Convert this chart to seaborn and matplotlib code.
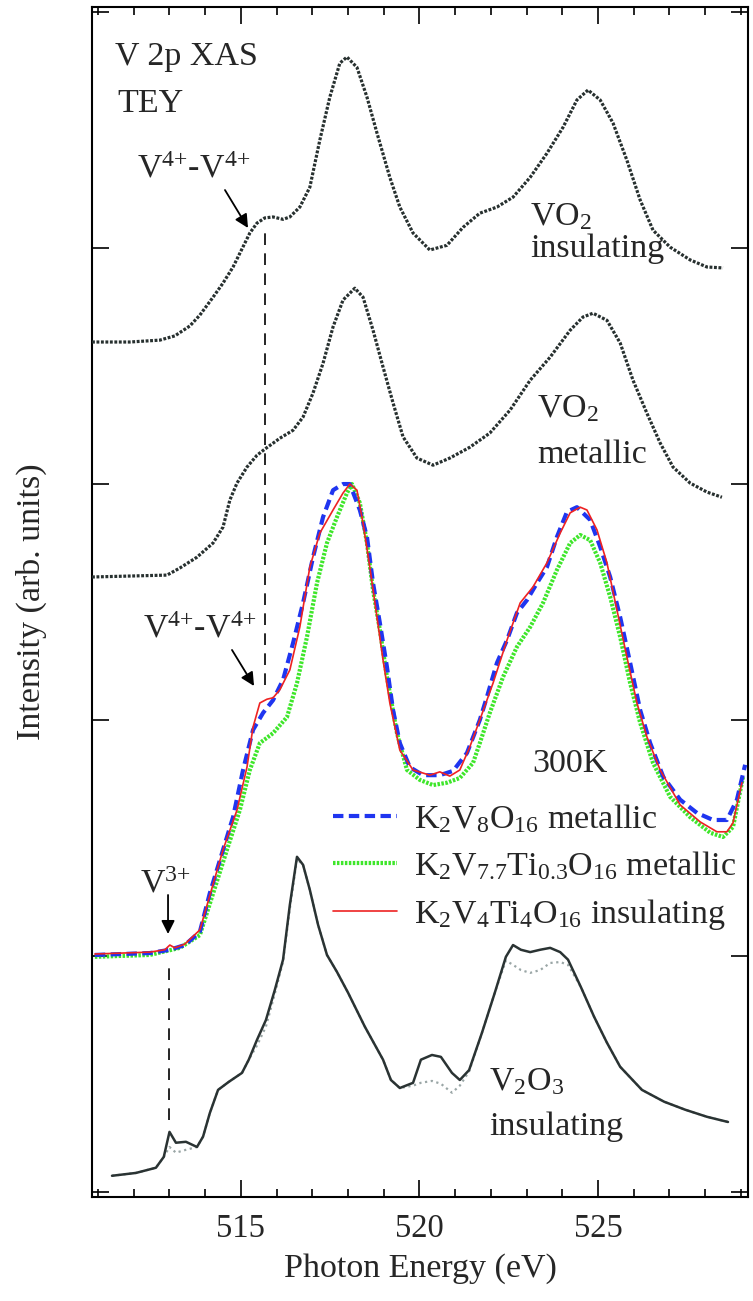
import numpy as np
import pandas as pd
import matplotlib
matplotlib.use("Agg")
import matplotlib.pyplot as plt
import seaborn as sns
from matplotlib.ticker import MultipleLocator

# ---------------- data (photon energy in eV, intensity in arb. units, offset stacked) ----------------
vo2_ins_E = [510.83, 511.89, 512.73, 513.15, 513.57, 513.85, 514.22, 514.50, 514.78, 515.25,
             515.45, 515.67, 515.90, 516.18, 516.37, 516.65, 516.93, 517.21, 517.49, 517.77,
             517.97, 518.25, 518.53, 518.81, 519.17, 519.45, 519.82, 520.29, 520.77, 521.22,
             521.69, 522.17, 522.62, 523.10, 523.57, 524.02, 524.41, 524.72, 525.06, 525.42,
             525.81, 526.18, 526.54, 527.02, 527.58, 528.05, 528.50]
vo2_ins_I = [1.301, 1.301, 1.305, 1.314, 1.335, 1.358, 1.396, 1.426, 1.460, 1.532,
             1.553, 1.564, 1.566, 1.561, 1.566, 1.587, 1.629, 1.729, 1.820, 1.892,
             1.905, 1.883, 1.820, 1.744, 1.650, 1.587, 1.532, 1.496, 1.506, 1.544,
             1.574, 1.587, 1.608, 1.650, 1.701, 1.756, 1.814, 1.835, 1.814, 1.765,
             1.686, 1.602, 1.538, 1.502, 1.475, 1.460, 1.458]

vo2_met_E = [510.83, 512.93, 513.29, 513.77, 514.22, 514.50, 514.69, 514.89, 515.17, 515.45,
             515.67, 516.09, 516.46, 516.74, 517.02, 517.30, 517.58, 517.86, 518.19, 518.42,
             518.70, 518.98, 519.26, 519.54, 519.93, 520.38, 520.85, 521.41, 521.97, 522.54,
             523.10, 523.66, 524.22, 524.58, 524.86, 525.25, 525.62, 525.98, 526.37, 526.74,
             527.10, 527.58, 528.05, 528.47]
vo2_met_I = [0.803, 0.807, 0.822, 0.845, 0.875, 0.909, 0.966, 1.002, 1.036, 1.061,
             1.074, 1.097, 1.114, 1.142, 1.193, 1.256, 1.333, 1.390, 1.415, 1.396,
             1.326, 1.248, 1.172, 1.100, 1.055, 1.040, 1.055, 1.078, 1.108, 1.157,
             1.220, 1.269, 1.326, 1.354, 1.362, 1.347, 1.299, 1.220, 1.150, 1.087,
             1.036, 1.002, 0.983, 0.972]

k2v8_E = [510.91, 512.45, 513.01, 513.43, 513.85, 514.13, 514.50, 514.78, 515.06, 515.34,
          515.62, 515.90, 516.18, 516.46, 516.74, 517.02, 517.30, 517.58, 517.86, 518.05,
          518.33, 518.53, 518.70, 518.89, 519.09, 519.26, 519.45, 519.73, 520.10, 520.57,
          520.94, 521.33, 521.69, 521.89, 522.17, 522.45, 522.73, 523.01, 523.29, 523.57,
          523.85, 524.13, 524.41, 524.78, 525.06, 525.34, 525.62, 525.90, 526.18, 526.46,
          526.83, 527.30, 527.77, 528.22, 528.61, 528.89, 529.12]
k2v8_I = [0.002, 0.006, 0.013, 0.023, 0.051, 0.133, 0.225, 0.294, 0.394, 0.479,
          0.515, 0.542, 0.585, 0.663, 0.748, 0.845, 0.930, 0.987, 1.000, 1.000,
          0.945, 0.888, 0.790, 0.706, 0.612, 0.521, 0.451, 0.400, 0.383, 0.383,
          0.392, 0.430, 0.500, 0.549, 0.621, 0.669, 0.727, 0.754, 0.790, 0.824,
          0.888, 0.941, 0.951, 0.924, 0.867, 0.803, 0.718, 0.621, 0.521, 0.451,
          0.379, 0.331, 0.303, 0.288, 0.288, 0.331, 0.405]

k2v77_E = [510.91, 512.45, 513.29, 513.85, 514.61, 514.97, 515.25, 515.53, 515.90, 516.29,
           516.57, 516.85, 517.13, 517.41, 517.69, 517.97, 518.11, 518.33, 518.53, 518.70,
           518.89, 519.09, 519.37, 519.65, 520.01, 520.38, 520.77, 521.13, 521.50, 521.69,
           521.97, 522.34, 522.73, 523.10, 523.46, 523.85, 524.22, 524.50, 524.78, 525.06,
           525.34, 525.62, 525.90, 526.18, 526.54, 527.02, 527.58, 528.14, 528.50, 528.78,
           529.06]
k2v77_I = [-0.002, 0.002, 0.017, 0.044, 0.225, 0.309, 0.394, 0.451, 0.472, 0.506,
           0.578, 0.676, 0.790, 0.875, 0.930, 0.981, 1.000, 0.960, 0.875, 0.775,
           0.691, 0.591, 0.472, 0.394, 0.373, 0.362, 0.367, 0.377, 0.409, 0.451,
           0.515, 0.591, 0.655, 0.697, 0.748, 0.818, 0.875, 0.892, 0.881, 0.833,
           0.761, 0.676, 0.578, 0.494, 0.409, 0.337, 0.294, 0.261, 0.252, 0.273,
           0.379]

k2v4_E = [510.91, 512.45, 512.87, 513.01, 513.15, 513.43, 513.85, 514.50, 514.89, 515.17,
          515.34, 515.53, 515.73, 515.90, 516.09, 516.37, 516.65, 516.93, 517.21, 517.58,
          517.86, 518.05, 518.25, 518.42, 518.61, 518.81, 518.98, 519.17, 519.45, 519.82,
          520.29, 520.57, 520.85, 521.13, 521.41, 521.69, 522.06, 522.45, 522.82, 523.18,
          523.57, 523.94, 524.22, 524.50, 524.69, 524.97, 525.25, 525.53, 525.81, 526.09,
          526.37, 526.74, 527.30, 527.86, 528.33, 528.61, 528.78, 529.03]
k2v4_I = [0.004, 0.008, 0.013, 0.023, 0.017, 0.025, 0.055, 0.225, 0.309, 0.400,
          0.485, 0.536, 0.544, 0.547, 0.564, 0.606, 0.697, 0.824, 0.896, 0.945,
          0.981, 1.000, 0.987, 0.917, 0.824, 0.718, 0.627, 0.536, 0.436, 0.394,
          0.383, 0.390, 0.381, 0.394, 0.443, 0.500, 0.578, 0.669, 0.748, 0.782,
          0.833, 0.896, 0.939, 0.951, 0.945, 0.903, 0.833, 0.733, 0.633, 0.536,
          0.464, 0.394, 0.320, 0.284, 0.263, 0.263, 0.282, 0.367]

v2o3_E = [511.39, 512.06, 512.62, 512.84, 513.00, 513.18, 513.46, 513.77, 513.94, 514.13,
          514.36, 514.66, 515.03, 515.22, 515.45, 515.70, 515.95, 516.18, 516.37, 516.57,
          516.74, 516.93, 517.16, 517.41, 517.69, 518.00, 518.47, 518.98, 519.20, 519.45,
          519.82, 520.04, 520.35, 520.60, 520.91, 521.13, 521.39, 521.75, 522.11, 522.42,
          522.62, 522.84, 523.10, 523.38, 523.66, 523.94, 524.16, 524.52, 524.89, 525.25,
          525.62, 526.23, 526.85, 527.44, 528.05, 528.64]
v2o3_I = [-0.466, -0.460, -0.449, -0.426, -0.373, -0.396, -0.394, -0.405, -0.383, -0.333,
          -0.284, -0.267, -0.248, -0.220, -0.178, -0.136, -0.072, -0.008, 0.108, 0.210,
          0.193, 0.140, 0.066, 0.002, -0.034, -0.078, -0.150, -0.220, -0.263, -0.280,
          -0.269, -0.220, -0.210, -0.214, -0.248, -0.263, -0.242, -0.163, -0.078, -0.002,
          0.023, 0.013, 0.008, 0.013, 0.017, 0.008, -0.008, -0.066, -0.129, -0.184,
          -0.235, -0.284, -0.309, -0.326, -0.341, -0.352]
v2o3_alt_I = [-0.466, -0.460, -0.449, -0.426, -0.405, -0.417, -0.411, -0.405, -0.383, -0.333,
              -0.284, -0.267, -0.248, -0.220, -0.190, -0.150, -0.080, -0.012, 0.100, 0.205,
              0.193, 0.140, 0.066, 0.002, -0.034, -0.078, -0.150, -0.220, -0.263, -0.280,
              -0.275, -0.269, -0.265, -0.271, -0.290, -0.275, -0.245, -0.163, -0.078, -0.010,
              -0.019, -0.030, -0.036, -0.030, -0.015, -0.013, -0.019, -0.066, -0.129, -0.184,
              -0.235, -0.284, -0.309, -0.326, -0.341, -0.352]

# guide lines (energy, lower, upper)
guide_E = [515.67, 512.98]
guide_lo = [0.574, -0.347]
guide_hi = [1.534, -0.008]

legend_labels = [
    r"K$_{\mathregular{2}}$V$_{\mathregular{8}}$O$_{\mathregular{16}}$ metallic",
    r"K$_{\mathregular{2}}$V$_{\mathregular{7.7}}$Ti$_{\mathregular{0.3}}$O$_{\mathregular{16}}$ metallic",
    r"K$_{\mathregular{2}}$V$_{\mathregular{4}}$Ti$_{\mathregular{4}}$O$_{\mathregular{16}}$ insulating",
]

# ---------------- style ----------------
sns.set_style("ticks")
plt.rcParams["font.family"] = ["Liberation Serif", "DejaVu Serif"]
plt.rcParams["mathtext.fontset"] = "custom"
plt.rcParams["mathtext.rm"] = "Liberation Serif"
plt.rcParams["mathtext.it"] = "Liberation Serif:italic"
plt.rcParams["mathtext.bf"] = "Liberation Serif:bold"

FS = 24.5
fig = plt.figure(figsize=(7.53, 13.01), dpi=100)
ax = fig.add_axes([92 / 753, 1 - 1197 / 1301, 656 / 753, 1190 / 1301])


def draw(E, I, **kw):
    df = pd.DataFrame({"E": E, "I": I})
    sns.lineplot(data=df, x="E", y="I", ax=ax, sort=False, estimator=None,
                 legend=False, **kw)
    return ax.lines[-1]


scan = "#27302f"
draw(vo2_ins_E, vo2_ins_I, color=scan, lw=2.3, linestyle=(0, (0.9, 0.5)), zorder=3)
draw(vo2_met_E, vo2_met_I, color=scan, lw=2.3, linestyle=(0, (0.9, 0.5)), zorder=3)
draw(v2o3_E, v2o3_alt_I, color="#9aa6a6", lw=1.6, linestyle=(0, (1.0, 1.6)), zorder=2)
draw(v2o3_E, v2o3_I, color="#2a3333", lw=1.8, zorder=3)

h_green = draw(k2v77_E, k2v77_I, color="#3ee62a", lw=3.0, linestyle=(0, (0.6, 0.35)), zorder=4)
h_blue = draw(k2v8_E, k2v8_I, color="#1f35f0", lw=3.0, linestyle=(0, (2.5, 1.3)), zorder=5)
h_red = draw(k2v4_E, k2v4_I, color="#ee2222", lw=1.2, zorder=6)

ax.vlines(guide_E, guide_lo, guide_hi, colors="black", linestyles=(0, (7, 5)), lw=1.2, zorder=2)

leg = ax.legend(handles=[h_blue, h_green, h_red], labels=legend_labels,
                loc="center left", bbox_to_anchor=(0.367, 0.2773), frameon=False,
                fontsize=FS, handlelength=1.9, handletextpad=0.5, labelspacing=0.42,
                borderpad=0, borderaxespad=0)

# ---------------- axes ----------------
ax.set_xlim(510.83, 529.2)
ax.set_ylim(-0.511, 2.011)
ax.xaxis.set_major_locator(MultipleLocator(5))
ax.xaxis.set_minor_locator(MultipleLocator(1))
ax.yaxis.set_major_locator(MultipleLocator(0.5))
ax.tick_params(which="both", direction="in", top=True, right=True, width=1.2,
               color="black", labelleft=False)
ax.tick_params(which="major", length=12, labelsize=23.5, pad=12)
ax.tick_params(which="minor", length=6)
for s in ax.spines.values():
    s.set_linewidth(1.5)
    s.set_color("black")

ax.set_xlabel("Photon Energy (eV)", fontsize=FS)
ax.set_ylabel("Intensity (arb. units)", fontsize=FS)
ax.xaxis.set_label_coords(0.5, -0.047)
ax.yaxis.set_label_coords(-0.069, 0.5)

T = ax.transAxes
def txt(x, y, s):
    ax.text(x, y, s, transform=T, fontsize=FS, ha="left", va="baseline", zorder=7)

v44 = r"V$^{\mathregular{4}{+}}$-V$^{\mathregular{4}{+}}$"
txt(0.035, 0.951, "V 2p XAS")
txt(0.038, 0.912, "TEY")
txt(0.0686, 0.857, v44)
txt(0.668, 0.817, r"VO$_{\mathregular{2}}$")
txt(0.668, 0.790, "insulating")
txt(0.678, 0.655, r"VO$_{\mathregular{2}}$")
txt(0.678, 0.617, "metallic")
txt(0.0777, 0.470, v44)
txt(0.671, 0.357, "300K")
txt(0.073, 0.2555, r"V$^{\mathregular{3}{+}}$")
txt(0.605, 0.0899, r"V$_{\mathregular{2}}$O$_{\mathregular{3}}$")
txt(0.605, 0.0521, "insulating")

arrow = dict(arrowstyle="-|>", color="black", lw=1.3, mutation_scale=20, shrinkA=0, shrinkB=0)
ax.annotate("", xy=(0.2378, 0.8143), xytext=(0.2027, 0.8462), xycoords=T, textcoords=T, arrowprops=arrow)
ax.annotate("", xy=(0.2470, 0.4294), xytext=(0.2134, 0.4597), xycoords=T, textcoords=T, arrowprops=arrow)
ax.annotate("", xy=(0.1159, 0.2210), xytext=(0.1159, 0.2538), xycoords=T, textcoords=T, arrowprops=arrow)

fig.savefig("out.png", dpi=100)
